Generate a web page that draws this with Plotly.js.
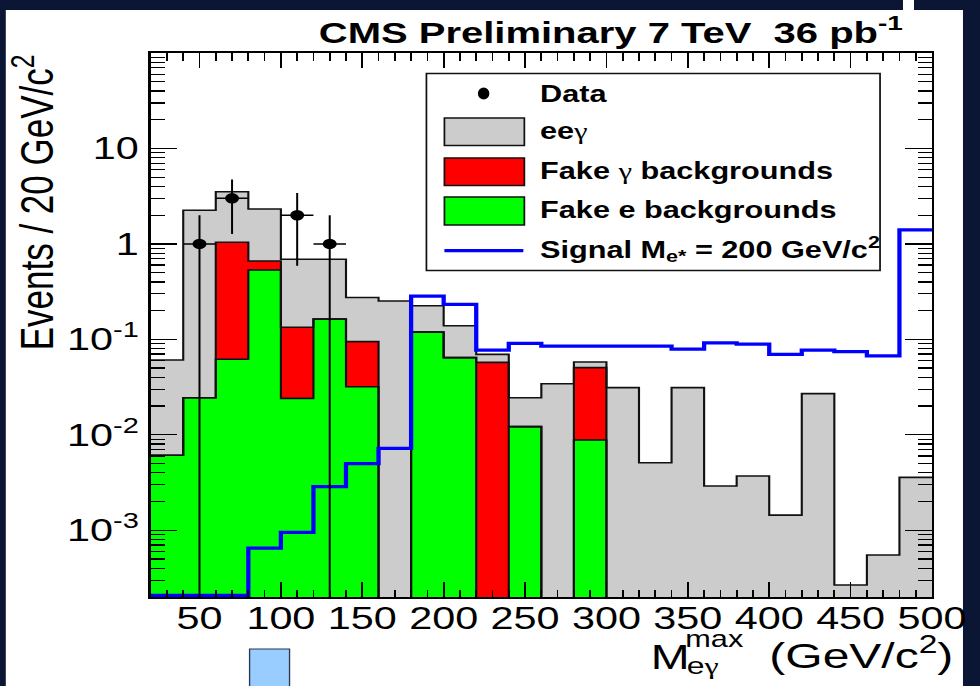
<!DOCTYPE html>
<html><head><meta charset="utf-8">
<script src="https://cdn.plot.ly/plotly-3.0.1.min.js"></script>
<style>
html,body{margin:0;padding:0;background:#0a1633;overflow:hidden;width:980px;height:686px;}
#chart{width:735px;height:686px;transform:scaleX(1.333333);transform-origin:0 0;}
</style></head><body><div id="chart"></div>
<script>
// ---------------- data ----------------
const binCenters = [30,50,70,90,110,130,150,170,190,210,230,250,270,290,310,330,350,370,390,410,430,450,470,490];
const binEdges = [20,40,60,80,100,120,140,160,180,200,220,240,260,280,300,320,340,360,380,400,420,440,460,480,500];
// stacked components (bottom to top): fake e, fake gamma, ee-gamma
const fakeE     = [0.0061,0.0245,0.0618,0.533,0.0241,0.163,0.0319,0,0.119,0.0643,0,0.0122,0,0.00883,0,0,0,0,0,0,0,0,0,0];
const fakeGamma = [0,0,0.978,0.129,0.110,0,0.0627,0,0,0,0.0574,0,0,0.0417,0,0,0,0,0,0,0,0,0,0];
const eeGamma   = [0.0547,2.23,2.48,1.66,0.556,0.527,0.180,0.252,0.106,0.0747,0.0123,0.0123,0.0343,0.0075,0.0312,0.0051,0.0312,0.00291,0.0037,0.00144,0.027,0.000267,0.00055,0.00358];
const signal    = [0,0,0,0.00065,0.00095,0.00286,0.0050,0.0072,0.284,0.233,0.077,0.091,0.085,0.085,0.085,0.085,0.079,0.092,0.089,0.0697,0.077,0.0743,0.067,1.4];
const dataX   = [50,70,110,130];
const dataY   = [1,3,2,1];
const dataErr = [1.0,1.73,1.41,1.0];
const GAM = '<span style="font-family:\'Liberation Serif\', \'DejaVu Serif\', serif;font-weight:normal">\u03b3</span>';
const seriesNames = ['Data','ee'+GAM,'Fake '+GAM+' backgrounds','Fake e backgrounds','Signal M<sub>e*</sub> = 200 GeV/c<sup>2</sup>'];
const yTickVals = [1e-3,1e-2,1e-1,1,10];
const yTickText = ['10<sup>-3</sup>','10<sup>-2</sup>','10<sup>-1</sup>','1','10'];

// ---------------- layout geometry ----------------
const S = 980/735;               // horizontal stretch of the original picture
const W = 735, H = 686, L = 112.5, R = 36, T = 53, B = 89;
const PW = W - L - R, PH = H - T - B;
const Y_MIN = 2e-4, Y_MAX = 100;
const FLOOR = 1e-7;
const FONT = 'Liberation Sans, Arial, Helvetica, sans-serif';
const px = xr => (xr / S - L) / PW;      // reference pixel -> paper x
const py = yr => 1 - (yr - T) / PH;      // reference pixel -> paper y

// stacked tops
const topGreen = fakeE.slice();
const topRed = fakeE.map((v,i) => v + fakeGamma[i]);
const topGray = topRed.map((v,i) => v + eeGamma[i]);

function stepX(){ return binEdges.slice(); }
function stepY(arr, floor){ const a = arr.map(v => v > 0 ? v : floor); a.push(a[a.length-1]); return a; }

const minorY = [];
for (let d = -4; d <= 1; d++) for (let k = 2; k <= 9; k++) { const v = k * Math.pow(10, d); if (v > Y_MIN*1.001 && v < Y_MAX) minorY.push(v); }

const outline = {color:'#111', width:1.6};
const traces = [
  {type:'bar', x:binCenters, y:topGray.map(v=>v>0?v:null), width:20, marker:{color:'#cccccc', line:{width:0}}, name:'ee\u03b3', hoverinfo:'skip'},
  {type:'bar', x:binCenters, y:topRed.map(v=>v>0?v:null), width:20, marker:{color:'#ff0000', line:{width:0}}, name:'Fake \u03b3 backgrounds', hoverinfo:'skip'},
  {type:'bar', x:binCenters, y:topGreen.map(v=>v>0?v:null), width:20, marker:{color:'#00ff00', line:{width:0}}, name:'Fake e backgrounds', hoverinfo:'skip'},
  {type:'scatter', mode:'lines', x:stepX(), y:stepY(topGray, FLOOR), line:Object.assign({shape:'hv'}, outline), hoverinfo:'skip'},
  {type:'scatter', mode:'lines', x:stepX(), y:stepY(topRed, FLOOR), line:Object.assign({shape:'hv'}, outline), hoverinfo:'skip'},
  {type:'scatter', mode:'lines', x:stepX(), y:stepY(topGreen, FLOOR), line:Object.assign({shape:'hv'}, outline), hoverinfo:'skip'},
  {type:'scatter', mode:'lines', x:stepX(), y:stepY(signal.map(v => Math.max(v, Y_MIN*1.04)), Y_MIN*1.04), line:{shape:'hv', color:'#0000ff', width:3.2}, name:'Signal', cliponaxis:false, hoverinfo:'skip'},
  {type:'scatter', mode:'markers', x:dataX, y:dataY, name:'Data',
   marker:{color:'#000', size:10.5, symbol:'circle'},
   error_y:{type:'data', symmetric:true, array:dataErr, thickness:1.5, width:0, color:'#000'},
   error_x:{type:'constant', value:10, thickness:1.5, width:0, color:'#000'}, hoverinfo:'skip'}
];

const shapes = [
  {type:'rect', xref:'paper', yref:'paper', x0:px(5), x1:px(963), y0:py(690), y1:py(10), fillcolor:'#ffffff', line:{width:0}, layer:'below'},
  {type:'rect', xref:'paper', yref:'paper', x0:px(903), x1:px(914), y0:py(10), y1:py(0), fillcolor:'#ffffff', line:{width:0}, layer:'below'},
  {type:'rect', xref:'paper', yref:'paper', x0:px(249), x1:px(289), y0:py(690), y1:py(649), fillcolor:'#99ccff', line:{width:1, color:'#2a3550'}, layer:'above'},
  // legend
  {type:'rect', xref:'paper', yref:'paper', x0:px(426), x1:px(880), y0:py(270.5), y1:py(73.5), fillcolor:'#ffffff', line:{width:1.3, color:'#111'}, layer:'above'},
  {type:'circle', xref:'paper', yref:'paper', x0:px(477.5), x1:px(489), y0:py(99.5), y1:py(87.5), fillcolor:'#000', line:{width:0}, layer:'above'},
  {type:'rect', xref:'paper', yref:'paper', x0:px(444), x1:px(524), y0:py(145.5), y1:py(118), fillcolor:'#cccccc', line:{width:1.3, color:'#111'}, layer:'above'},
  {type:'rect', xref:'paper', yref:'paper', x0:px(444), x1:px(524), y0:py(185.5), y1:py(158), fillcolor:'#ff0000', line:{width:1.3, color:'#111'}, layer:'above'},
  {type:'rect', xref:'paper', yref:'paper', x0:px(444), x1:px(524), y0:py(225), y1:py(197), fillcolor:'#00ff00', line:{width:1.3, color:'#111'}, layer:'above'},
  {type:'line', xref:'paper', yref:'paper', x0:px(444), x1:px(523), y0:py(250.7), y1:py(250.7), line:{width:3.3, color:'#0000ff'}, layer:'above'}
];

const legendYs = [94, 131, 171, 210, 249];
const ann = [];
seriesNames.forEach((t,i) => ann.push({xref:'paper', yref:'paper', x:px(537), y:py(legendYs[i]), xanchor:'left', yanchor:'middle', text:'<b>'+t+'</b>', showarrow:false, font:{family:FONT, size:23, color:'#000'}}));
// title
ann.push({xref:'paper', yref:'paper', x:px(906), y:py(51), xanchor:'right', yanchor:'bottom', text:'<b>CMS Preliminary 7 TeV\u00a0 36 pb<sup>-1</sup></b>', showarrow:false, font:{family:FONT, size:30, color:'#000'}});
// y title
ann.push({xref:'paper', yref:'paper', x:px(33), y:py(202), xanchor:'center', yanchor:'middle', textangle:-90, text:'Events / 20 GeV/c<sup>2</sup>', showarrow:false, font:{family:FONT, size:35, color:'#000'}});
// x title pieces
ann.push({xref:'paper', yref:'paper', x:px(648), y:py(656), xanchor:'left', yanchor:'middle', text:'M', showarrow:false, font:{family:FONT, size:35, color:'#000'}});
ann.push({xref:'paper', yref:'paper', x:px(683), y:py(639), xanchor:'left', yanchor:'middle', text:'max', showarrow:false, font:{family:FONT, size:23, color:'#000'}});
ann.push({xref:'paper', yref:'paper', x:px(684), y:py(665), xanchor:'left', yanchor:'middle', text:'e'+GAM, showarrow:false, font:{family:FONT, size:24, color:'#000'}});
ann.push({xref:'paper', yref:'paper', x:px(766), y:py(678), xanchor:'left', yanchor:'bottom', text:'(GeV/c<sup>2</sup>)', showarrow:false, font:{family:FONT, size:36, color:'#000'}});

const axisCommon = {showline:true, linewidth:1.7, linecolor:'#000', mirror:'ticks', showgrid:false, zeroline:false,
  ticks:'inside', tickcolor:'#000', tickwidth:1.3, automargin:false, fixedrange:true,
  tickfont:{family:FONT, size:31, color:'#000'}};

const layout = {
  width:W, height:H, margin:{l:L, r:R, t:T, b:B, pad:0},
  paper_bgcolor:'#0a1633', plot_bgcolor:'#ffffff',
  showlegend:false, barmode:'overlay', bargap:0,
  xaxis:Object.assign({}, axisCommon, {range:[20,500], tickmode:'linear', tick0:0, dtick:50, ticklen:15, ticklabelstandoff:-7,
    minor:{dtick:10, tick0:0, ticks:'inside', ticklen:7.5, tickwidth:1.3, tickcolor:'#000', showgrid:false}}),
  yaxis:Object.assign({}, axisCommon, {type:'log', range:[Math.log10(Y_MIN), Math.log10(Y_MAX)], tickmode:'array',
    tickvals:yTickVals, ticktext:yTickText, ticklen:20, ticklabelstandoff:1,
    minor:{tickmode:'array', tickvals:minorY, ticks:'inside', ticklen:10.5, tickwidth:1.3, tickcolor:'#000', showgrid:false}}),
  shapes:shapes, annotations:ann
};

Plotly.newPlot('chart', traces, layout, {staticPlot:true, displayModeBar:false});
</script></body></html>
